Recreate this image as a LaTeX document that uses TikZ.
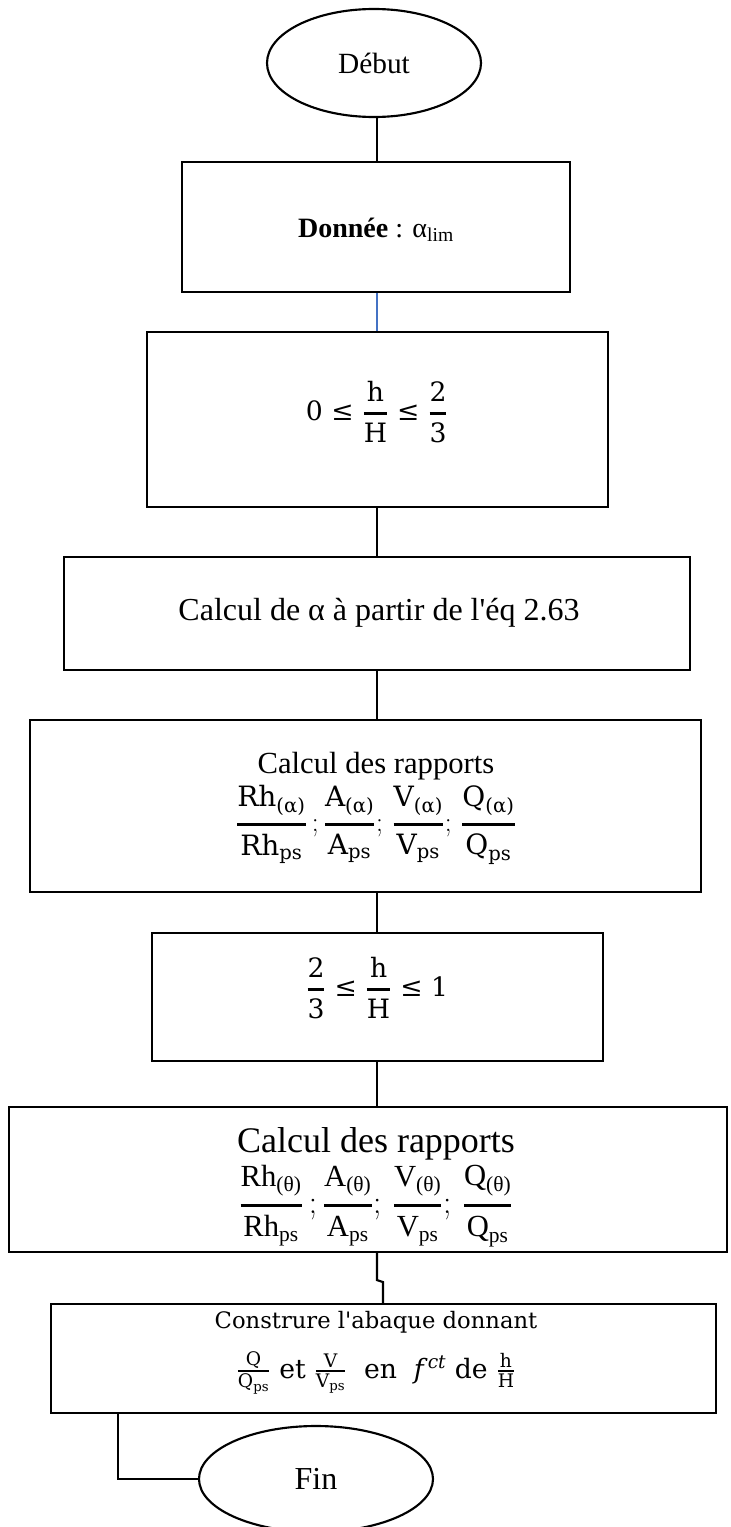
\documentclass[tikz,border=0pt]{standalone}
\usepackage{amsmath}
\usepackage{fontspec}
\setmainfont{Liberation Serif}[Ligatures=TeXOff]
\newfontfamily\cam{DejaVu Serif}
\usetikzlibrary{shapes.geometric}

\definecolor{linkblue}{RGB}{68,114,196}

\tikzset{
  box/.style={draw, line width=1.6pt, rectangle, inner sep=0pt},
  term/.style={draw, line width=1.6pt, ellipse, inner sep=0pt},
  txt/.style={inner sep=0pt, align=center},
  link/.style={line width=1.6pt},
}
\newcommand{\fs}[1]{\fontsize{#1}{1.15\dimexpr #1pt\relax}\selectfont}
% fractions with a heavy rule, display and text sizes
\newcommand{\dfr}[3][2pt]{\genfrac{}{}{#1}{0}{#2}{#3}}
\newcommand{\tfr}[3][1.3pt]{\genfrac{}{}{#1}{1}{#2}{#3}}

\begin{document}
\begin{tikzpicture}[x=0.75pt, y=-0.75pt]
\useasboundingbox (0,0) rectangle (731,1527);

% guide coordinates for the vertical connectors
\coordinate (spine) at (377,0);
\coordinate (jogx) at (383,0);
\coordinate (finx) at (118,0);

% terminals
\node[term, minimum width=160.5pt, minimum height=81pt, font=\fs{22}] (debut) at (374,63) {Début};
\node[term, minimum width=175.5pt, minimum height=79.5pt, font=\fs{24}] (fin) at (316,1479) {Fin};

% process boxes (sizes in pt = px * 0.75)
\node[box, minimum width=291pt,    minimum height=97.5pt]  (b1) at (376,227)     {};
\node[box, minimum width=345.75pt, minimum height=131.25pt] (b2) at (377.5,419.5) {};
\node[box, minimum width=469.5pt,  minimum height=84.75pt]  (b3) at (377,613.5)   {};
\node[box, minimum width=503.25pt, minimum height=129pt]    (b4) at (365.5,806)   {};
\node[box, minimum width=338.25pt, minimum height=96pt]     (b5) at (377.5,997)   {};
\node[box, minimum width=538.5pt,  minimum height=108.75pt] (b6) at (368,1179.5)  {};
\node[box, minimum width=498.75pt, minimum height=81.75pt]  (b7) at (383.5,1358.5) {};

% box contents
\node[txt, font=\fs{21}] (t1) at (376,230) {\textbf{Donnée} : α$_{\text{lim}}$};

\node[txt, font=\cam\fs{20}] (t2) at (377,412)
  {0 ≤ $\dfr{\text{h}}{\text{H}}$ ≤ $\dfr{\text{2}}{\text{3}}$};

\node[txt, font=\fs{24}] (t3) at (379,613) {Calcul de α à partir de l'éq 2.63};

\node[txt, font=\fs{23}] (t4a) at (376,766) {Calcul des rapports};
\node[txt, font=\cam\fs{21}] (t4b) at (376,825)
  {$\dfr{\text{Rh}_{\text{(α)}}}{\text{Rh}_{\text{ps}}}\,;
    \dfr{\text{A}_{\text{(α)}}}{\text{A}_{\text{ps}}};\,
    \dfr{\text{V}_{\text{(α)}}}{\text{V}_{\text{ps}}};\,
    \dfr{\text{Q}_{\text{(α)}}}{\text{Q}_{\text{ps}}}$};

\node[txt, font=\cam\fs{20}] (t5) at (377,988)
  {$\dfr{\text{2}}{\text{3}}$ ≤ $\dfr{\text{h}}{\text{H}}$ ≤ 1};

\node[txt, font=\fs{27}] (t6a) at (376,1144) {Calcul des rapports};
\node[txt, font=\fs{23}] (t6b) at (376,1206)
  {$\dfr{\text{Rh}_{\text{(θ)}}}{\text{Rh}_{\text{ps}}}\,;
    \dfr{\text{A}_{\text{(θ)}}}{\text{A}_{\text{ps}}};\,
    \dfr{\text{V}_{\text{(θ)}}}{\text{V}_{\text{ps}}};\,
    \dfr{\text{Q}_{\text{(θ)}}}{\text{Q}_{\text{ps}}}$};

\node[txt, font=\cam\fs{17}] (t7a) at (376,1322) {Construre l'abaque donnant};
\node[txt, font=\cam\fs{20}] (t7b) at (376,1373)
  {$\tfr{\text{Q}}{\text{Q}_{\text{ps}}}$ et
   $\tfr{\text{V}}{\text{V}_{\text{ps}}}$ \ en \ \textit{f}$^{\text{\itshape ct}}$ de
   $\tfr{\text{h}}{\text{H}}$};

% connectors
\draw[link] (debut.south -| spine) -- (b1.north -| spine);
\draw[line width=1pt, draw=linkblue] (b1.south -| spine) -- (b2.north -| spine);
\draw[link] (b2.south -| spine) -- (b3.north -| spine);
\draw[link] (b3.south -| spine) -- (b4.north -| spine);
\draw[link] (b4.south -| spine) -- (b5.north -| spine);
\draw[link] (b5.south -| spine) -- (b6.north -| spine);
\draw[link] (b6.south -| spine) -- ++(0,27) -- ++(6,2) -- (b7.north -| jogx);
\draw[link] (b7.south -| finx) |- (fin.west);
\end{tikzpicture}
\end{document}
